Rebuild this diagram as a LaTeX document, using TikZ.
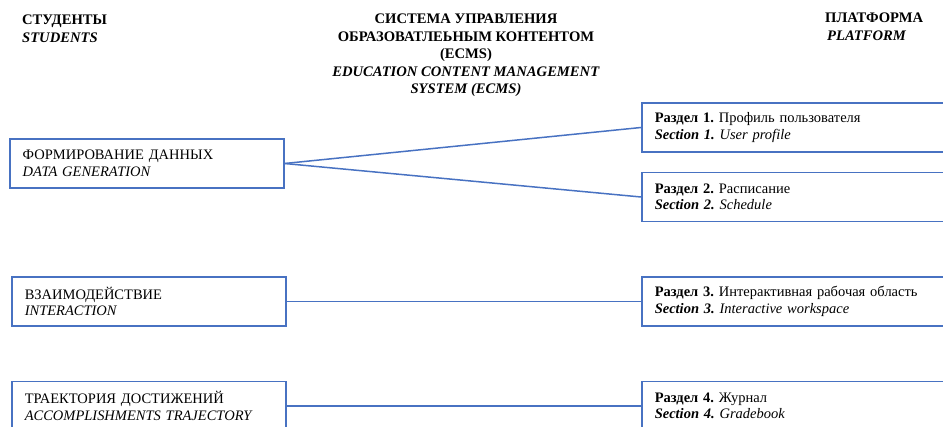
\documentclass[tikz,border=0pt]{standalone}
\usepackage{fontspec}
\setmainfont{Liberation Serif}
\usetikzlibrary{positioning}
\definecolor{boxblue}{RGB}{72,114,194}
\frenchspacing

\begin{document}
\begin{tikzpicture}[x=1pt,y=-1pt,
  every node/.style={font=\fontsize{14.5}{16.5}\selectfont},
  head node/.style={inner sep=0pt,font=\fontsize{14.6}{17.5}\selectfont\bfseries},
  student node/.style={draw=boxblue,line width=1.5pt,anchor=west,minimum height=49pt,align=left,text width=248pt,inner xsep=13pt},
  section node/.style={student node,text width=300pt}]
  \path[use as bounding box] (0,0) rectangle (943,427);
  \clip (0,0) rectangle (943,427);
  % Kopfzeilen
  \node[head node,anchor=north west,align=left] (students) at (22,15) {СТУДЕНТЫ\\\textit{STUDENTS}};
  \node[head node,anchor=north,align=center] (ecms) at (466,14) {СИСТЕМА УПРАВЛЕНИЯ\\ОБРАЗОВАТЛЕЬНЫМ КОНТЕНТОМ\\(ECMS)\\\textit{EDUCATION CONTENT MANAGEMENT}\\\textit{SYSTEM (ECMS)}};
  \node[head node,anchor=north west,align=left] (platform) at (825,13) {ПЛАТФОРМА\\\hspace*{2pt}\textit{PLATFORM}};
  % Studenten
  \node[student node] (gen) at (9,163.5) {ФОРМИРОВАНИЕ ДАННЫХ\\\textit{DATA GENERATION}};
  \node[student node] (inter) at (11,301.5) {ВЗАИМОДЕЙСТВИЕ\\\textit{INTERACTION}};
  \node[student node] (traj) at (11,406) {ТРАЕКТОРИЯ ДОСТИЖЕНИЙ\\\textit{ACCOMPLISHMENTS TRAJECTORY}};
  % Plattform
  \node[section node] (sec1) at (641,127.5) {\textbf{Раздел 1.} Профиль пользователя\\\textbf{\textit{Section 1.}} \textit{User profile}};
  \node[section node] (sec2) at (641,197) {\textbf{Раздел 2.} Расписание\\\textbf{\textit{Section 2.}} \textit{Schedule}};
  \node[section node] (sec3) at (641,301.5) {\textbf{Раздел 3.} Интерактивная рабочая область\\\textbf{\textit{Section 3.}} \textit{Interactive workspace}};
  \node[section node] (sec4) at (641,406) {\textbf{Раздел 4.} Журнал\\\textbf{\textit{Section 4.}} \textit{Gradebook}};

  \path[every edge/.style={draw=boxblue,line width=1.5pt}]
   (gen.east) edge (sec1.west)
   (gen.east) edge (sec2.west)
   (inter.east) edge (sec3.west)
   (traj.east) edge (sec4.west);
\end{tikzpicture}
\end{document}
